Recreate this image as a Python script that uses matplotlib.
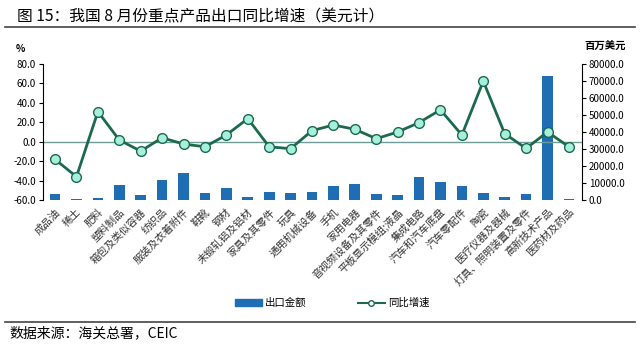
import numpy as np
import matplotlib.pyplot as plt
from matplotlib.lines import Line2D
from matplotlib.patches import Patch

plt.rcParams['font.family'] = ['Noto Sans CJK SC', 'DejaVu Sans']

categories = ['成品油', '稀土', '肥料', '塑料制品', '箱包及类似容器', '纺织品',
              '服装及衣着附件', '鞋靴', '钢材', '未锻轧铝及铝材', '家具及其零件', '玩具',
              '通用机械设备', '手机', '家用电器', '音视频设备及其零件', '平板显示模组;液晶',
              '集成电路', '汽车和汽车底盘', '汽车零配件', '陶瓷', '医疗仪器及器械',
              '灯具、照明装置及零件', '高新技术产品', '医药材及药品']
export_value = [3300, 500, 900, 8600, 2750, 12000, 15700, 3900, 7300, 1600, 4900, 3900,
                4900, 8250, 9400, 3300, 2750, 13500, 10800, 8250, 3900, 1600, 3300,
                72700, 400]
yoy_growth = [-18.3, -36.0, 31.0, 1.7, -9.7, 4.1, -2.4, -5.2, 6.9, 23.8, -5.2, -7.2,
              11.4, 17.2, 12.8, 3.1, 10.0, 19.7, 32.8, 6.9, 62.4, 8.3, -6.9, 10.0, -5.2]

bar_color = '#1f6db3'
line_color = '#1b6a4c'
marker_fill = '#a6efdc'

fig = plt.figure(figsize=(6.4, 3.46), dpi=100)
ax = fig.add_axes([0.067, 0.422, 0.842, 0.393])
ax2 = ax.twinx()

x = np.arange(len(categories))
ax2.bar(x, export_value, width=0.5, color=bar_color, zorder=1)
ax2.set_ylim(0, 80000)
ax2.set_yticks(np.arange(0, 80001, 10000))
ax2.set_yticklabels([f'{v:.1f}' for v in np.arange(0, 80001, 10000)], fontsize=7)

ax.set_zorder(ax2.get_zorder() + 1)
ax.patch.set_visible(False)
ax.axhline(0, color='#6f9c98', lw=1, zorder=1)
ax.plot(x, yoy_growth, color=line_color, lw=2, marker='o', ms=7,
        markerfacecolor=marker_fill, markeredgecolor=line_color, markeredgewidth=1, zorder=3)
ax.set_ylim(-60, 80)
ax.set_yticks(np.arange(-60, 81, 20))
ax.set_yticklabels([f'{v:.1f}' for v in np.arange(-60, 81, 20)], fontsize=7)
ax.set_xlim(-0.57, len(categories) - 0.4)
ax.set_xticks(x)
ax.set_xticklabels(categories, rotation=45, ha='right', rotation_mode='anchor',
                   fontsize=7.5, color='#333333')
ax.tick_params(axis='x', length=0, pad=5)
ax.tick_params(axis='y', length=3, width=0.8, pad=2)
ax2.tick_params(axis='y', length=3, width=0.8, pad=2)

for a in (ax, ax2):
    a.spines['top'].set_visible(False)
    a.spines['bottom'].set_visible(False)
ax.spines['right'].set_visible(False)
ax2.spines['left'].set_visible(False)

fig.text(0.025, 0.85, '%', fontsize=7, fontweight='bold')
fig.text(0.978, 0.858, '百万美元', fontsize=7.5, fontweight='bold', ha='right')

fig.text(0.027, 0.951, '图 15：我国 8 月份重点产品出口同比增速（美元计）', fontsize=11.3, va='center')
fig.add_artist(Line2D([0.008, 0.992], [0.922, 0.922], color='#444444', lw=1.2))

handles = [Patch(color=bar_color), Line2D([], [], color=line_color, lw=1.5, marker='o', ms=4,
                                          markerfacecolor='white', markeredgecolor=line_color)]
fig.legend(handles, ['出口金额', '同比增速'], loc='center', bbox_to_anchor=(0.519, 0.124), ncol=2,
           frameon=False, fontsize=7.5, handlelength=2.6, handletextpad=0.3,
           columnspacing=4.9, handleheight=0.6)

fig.add_artist(Line2D([0.008, 0.992], [0.069, 0.069], color='#444444', lw=1.2))
fig.text(0.014, 0.037, '数据来源：海关总署，CEIC', fontsize=10, va='center')

fig.savefig('out.png', dpi=100)
